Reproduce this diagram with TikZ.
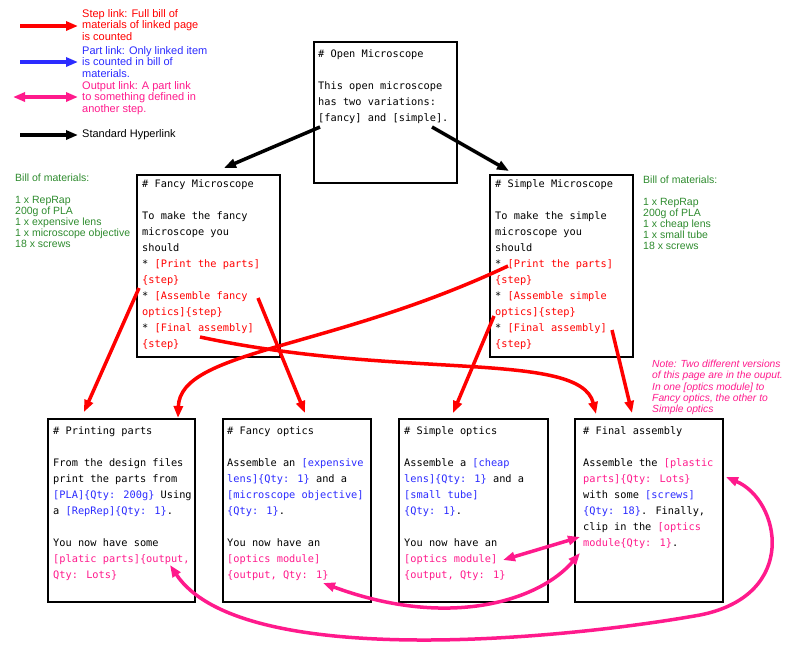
\documentclass[tikz,border=0pt]{standalone}
\usepackage{fontspec}
\setmainfont{Liberation Sans}
\newfontfamily\monof{DejaVu Sans Mono}
\usetikzlibrary{arrows.meta}
\definecolor{rd}{HTML}{FF0000}
\definecolor{bl}{HTML}{2B2BFF}
\definecolor{mg}{HTML}{FF1A8C}
\definecolor{gr}{HTML}{2E8B2E}
\tikzset{
 pagetxt/.style={anchor=north west,align=left,inner sep=0pt,font=\monof\fontsize{10.3}{16}\selectfont},
 leg/.style={anchor=west,align=left,inner sep=0pt,font=\fontsize{11}{11.5}\selectfont},
 bom/.style={anchor=north west,align=left,inner sep=0pt,text=gr,font=\fontsize{10.5}{11}\selectfont},
 tip/.style={-{Triangle[length=12pt,width=9pt]}},
 tips/.style={{Triangle[length=12pt,width=9pt]}-{Triangle[length=12pt,width=9pt]}},
 steplink/.style={tip,rd,line width=3.5pt},
 hyper/.style={tip,black,line width=3.5pt},
 outlink/.style={tips,mg,line width=3.5pt},
 partlink/.style={tip,bl,line width=3.5pt},
}
\newcommand{\R}[1]{\textcolor{rd}{#1}}
\newcommand{\B}[1]{\textcolor{bl}{#1}}
\newcommand{\M}[1]{\textcolor{mg}{#1}}
\begin{document}
\begin{tikzpicture}[x=1pt,y=-1pt]
\useasboundingbox (0,0) rectangle (800,649);
% legend
\coordinate (l1a) at (20,26); \coordinate (l1b) at (78,26);
\draw[steplink] (l1a) -- (l1b);
\node[leg,text=rd] (t1) at (82,25) {Step link: Full bill of\\materials of linked page\\is counted};
\coordinate (l2a) at (20,62); \coordinate (l2b) at (78,62);
\draw[partlink] (l2a) -- (l2b);
\node[leg,text=bl] (t2) at (82,62) {Part link: Only linked item\\is counted in bill of\\materials.};
\coordinate (l3a) at (13,97); \coordinate (l3b) at (78,97);
\draw[outlink] (l3a) -- (l3b);
\node[leg,text=mg] (t3) at (82,98) {Output link: A part link\\to something defined in\\another step.};
\coordinate (l4a) at (20,135); \coordinate (l4b) at (78,135);
\draw[hyper] (l4a) -- (l4b);
\node[leg] (t4) at (82,135) {Standard Hyperlink};
% pages
\draw[line width=2pt] (314,42) rectangle (457,183);
\node[pagetxt] (open) at (318,49) {\# Open Microscope\\[16pt]This open microscope\\has two variations:\\{[fancy]} and [simple].};
\draw[line width=2pt] (137,175) rectangle (280,357);
\node[pagetxt] (fancy) at (142,179) {\# Fancy Microscope\\[16pt]To make the fancy\\microscope you\\should\\* \R{[Print the parts]}\\\R{\{step\}}\\* \R{[Assemble fancy}\\\R{optics]\{step\}}\\* \R{[Final assembly]}\\\R{\{step\}}};
\draw[line width=2pt] (490,175) rectangle (633,357);
\node[pagetxt] (simple) at (495,179) {\# Simple Microscope\\[16pt]To make the simple\\microscope you\\should\\* \R{[Print the parts]}\\\R{\{step\}}\\* \R{[Assemble simple}\\\R{optics]\{step\}}\\* \R{[Final assembly]}\\\R{\{step\}}};
\draw[line width=2pt] (48,419) rectangle (195,602);
\node[pagetxt] (print) at (53,426) {\# Printing parts\\[16pt]From the design files\\print the parts from\\\B{[PLA]\{Qty: 200g\}} Using\\a \B{[RepRep]\{Qty: 1\}}.\\[16pt]You now have some\\\M{[platic parts]\{output,}\\\M{Qty: Lots\}}};
\draw[line width=2pt] (223,419) rectangle (371,602);
\node[pagetxt] (fopt) at (227,426) {\# Fancy optics\\[16pt]Assemble an \B{[expensive}\\\B{lens]\{Qty: 1\}} and a\\\B{[microscope objective]}\\\B{\{Qty: 1\}}.\\[16pt]You now have an\\\M{[optics module]}\\\M{\{output, Qty: 1\}}};
\draw[line width=2pt] (399,419) rectangle (548,602);
\node[pagetxt] (sopt) at (404,426) {\# Simple optics\\[16pt]Assemble a \B{[cheap}\\\B{lens]\{Qty: 1\}} and a\\\B{[small tube]}\\\B{\{Qty: 1\}}.\\[16pt]You now have an\\\M{[optics module]}\\\M{\{output, Qty: 1\}}};
\draw[line width=2pt] (575,419) rectangle (723,602);
\node[pagetxt] (final) at (583,426) {\# Final assembly\\[16pt]Assemble the \M{[plastic}\\\M{parts]\{Qty: Lots\}}\\with some \B{[screws]}\\\B{\{Qty: 18\}}. Finally,\\clip in the \M{[optics}\\\M{module\{Qty: 1\}}.};
% BOMs
\node[bom] (bomf) at (15,174) {Bill of materials:\\[11pt]1 x RepRap\\200g of PLA\\1 x expensive lens\\1 x microscope objective\\18 x screws};
\node[bom] (boms) at (643,176) {Bill of materials:\\[11pt]1 x RepRap\\200g of PLA\\1 x cheap lens\\1 x small tube\\18 x screws};
\node[anchor=north west,align=left,inner sep=0pt,text=mg,font=\itshape\fontsize{10.3}{11.3}\selectfont] (note) at (652,360) {Note: Two different versions\\of this page are in the ouput.\\In one [optics module] to\\Fancy optics, the other to\\Simple optics};
% black hyperlinks
\coordinate (h1) at (320,127); \coordinate (h1e) at (224,168);
\coordinate (h2) at (432,127); \coordinate (h2e) at (509,171);
\draw[hyper] (h1) -- (h1e);
\draw[hyper] (h2) -- (h2e);
% step links
\coordinate (a1) at (139,288); \coordinate (a1e) at (84,412);
\coordinate (a2) at (258,298); \coordinate (a2e) at (305,413);
\coordinate (a3) at (200,337); \coordinate (a3e) at (596,414);
\coordinate (b1) at (508,266); \coordinate (b1e) at (178,418);
\coordinate (b2) at (494,316); \coordinate (b2e) at (453,413);
\coordinate (b3) at (612,330); \coordinate (b3e) at (632,413);
\draw[steplink] (a1) -- (a1e);
\draw[steplink] (a2) -- (a2e);
\draw[steplink] (a3) .. controls (400,380) and (580,350) .. (a3e);
\draw[steplink] (b1) .. controls (330,350) and (180,350) .. (b1e);
\draw[steplink] (b2) -- (b2e);
\draw[steplink] (b3) -- (b3e);
% output links
\coordinate (o1) at (503,560); \coordinate (o1e) at (580,537);
\coordinate (o2) at (323,583); \coordinate (o2e) at (580,553);
\coordinate (o3) at (170,565); \coordinate (o3e) at (726,477);
\draw[outlink] (o1) -- (o1e);
\draw[outlink] (o2) .. controls (450,630) and (540,600) .. (o2e);
\draw[outlink] (o3) .. controls (240,670) and (560,640) .. (700,615) .. controls (800,595) and (780,500) .. (o3e);
\end{tikzpicture}
\end{document}
